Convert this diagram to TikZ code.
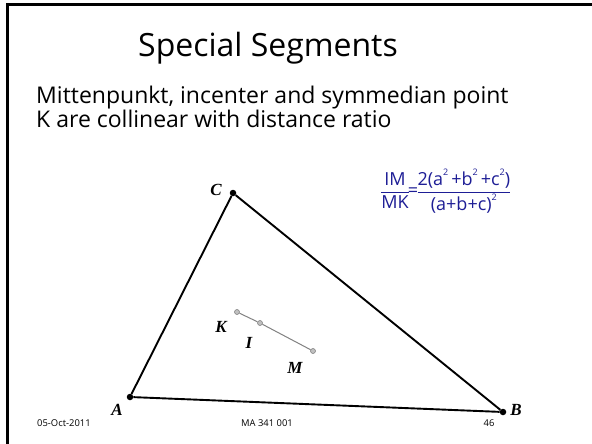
\documentclass[tikz,border=0pt]{standalone}
\usepackage{fontspec}
\setmainfont{Open Sans}
\newfontfamily\lblfont{Liberation Serif}
\definecolor{navy}{RGB}{30,30,150}
\definecolor{segg}{RGB}{130,130,130}
\newcommand{\tx}[1]{\mbox{#1}}
\newcommand{\sqd}{\raisebox{0.55em}{\fontsize{9}{9}\selectfont 2}}
\begin{document}
\begin{tikzpicture}[x=1pt,y=-1pt,
  tri/.style={line width=1.9pt,black},
  vdot/.style={circle,fill=black,inner sep=0pt,minimum size=6.5pt},
  sdot/.style={circle,draw=segg,fill=segg!50,line width=0.6pt,inner sep=0pt,minimum size=5pt},
  vlbl/.style={font=\lblfont\itshape\bfseries\fontsize{17}{17}\selectfont,inner sep=0pt},
  foot/.style={font=\fontsize{9.4}{9.4}\selectfont,inner sep=0pt,anchor=base}]
\useasboundingbox (0,0) rectangle (592,444);
\fill[white] (0,0) rectangle (592,444);
\draw[line width=2.5pt] (7.5,444) -- (7.5,4.5) -- (592,4.5);
\node[font=\fontsize{32}{32}\selectfont,anchor=base] (title) at (268,57) {Special Segments};
\node[font=\fontsize{23}{23}\selectfont,anchor=base west,inner sep=0pt] (l1) at (36,103) {Mittenpunkt, incenter and symmedian point};
\node[font=\fontsize{23}{23}\selectfont,anchor=base west,inner sep=0pt] (l2) at (36,128) {K are collinear with distance ratio};
\node[text=navy,font=\fontsize{18}{18}\selectfont,inner sep=0pt,anchor=west] (frm) at (380,191)
  {$\displaystyle\frac{\tx{IM}}{\tx{MK}}\mkern-2mu\tx{=}\mkern-2mu\frac{\tx{2(a\sqd\,+b\sqd\,+c\sqd)}}{\tx{(a+b+c)\sqd}}$};
\node[vdot] (A) at (130,397) {};
\node[vdot] (B) at (503,412) {};
\node[vdot] (C) at (233,193) {};
\draw[tri] (A) -- (B) -- (C) -- (A);
\node[vlbl] (lA) at (117,410) {A};
\node[vlbl] (lB) at (516,410) {B};
\node[vlbl] (lC) at (216,190) {C};
\node[sdot] (K) at (237,312) {};
\node[sdot] (I) at (260,323) {};
\node[sdot] (M) at (313,351) {};
\draw[segg,line width=1pt] (K) -- (I) -- (M);
\node[vlbl] (lK) at (221,327) {K};
\node[vlbl] (lI) at (249,343) {I};
\node[vlbl] (lM) at (295,368) {M};
\node[foot,anchor=base west] (date) at (37,426) {05-Oct-2011};
\node[foot] (course) at (267,426) {MA 341 001};
\node[foot] (page) at (489,426) {46};
\end{tikzpicture}
\end{document}
